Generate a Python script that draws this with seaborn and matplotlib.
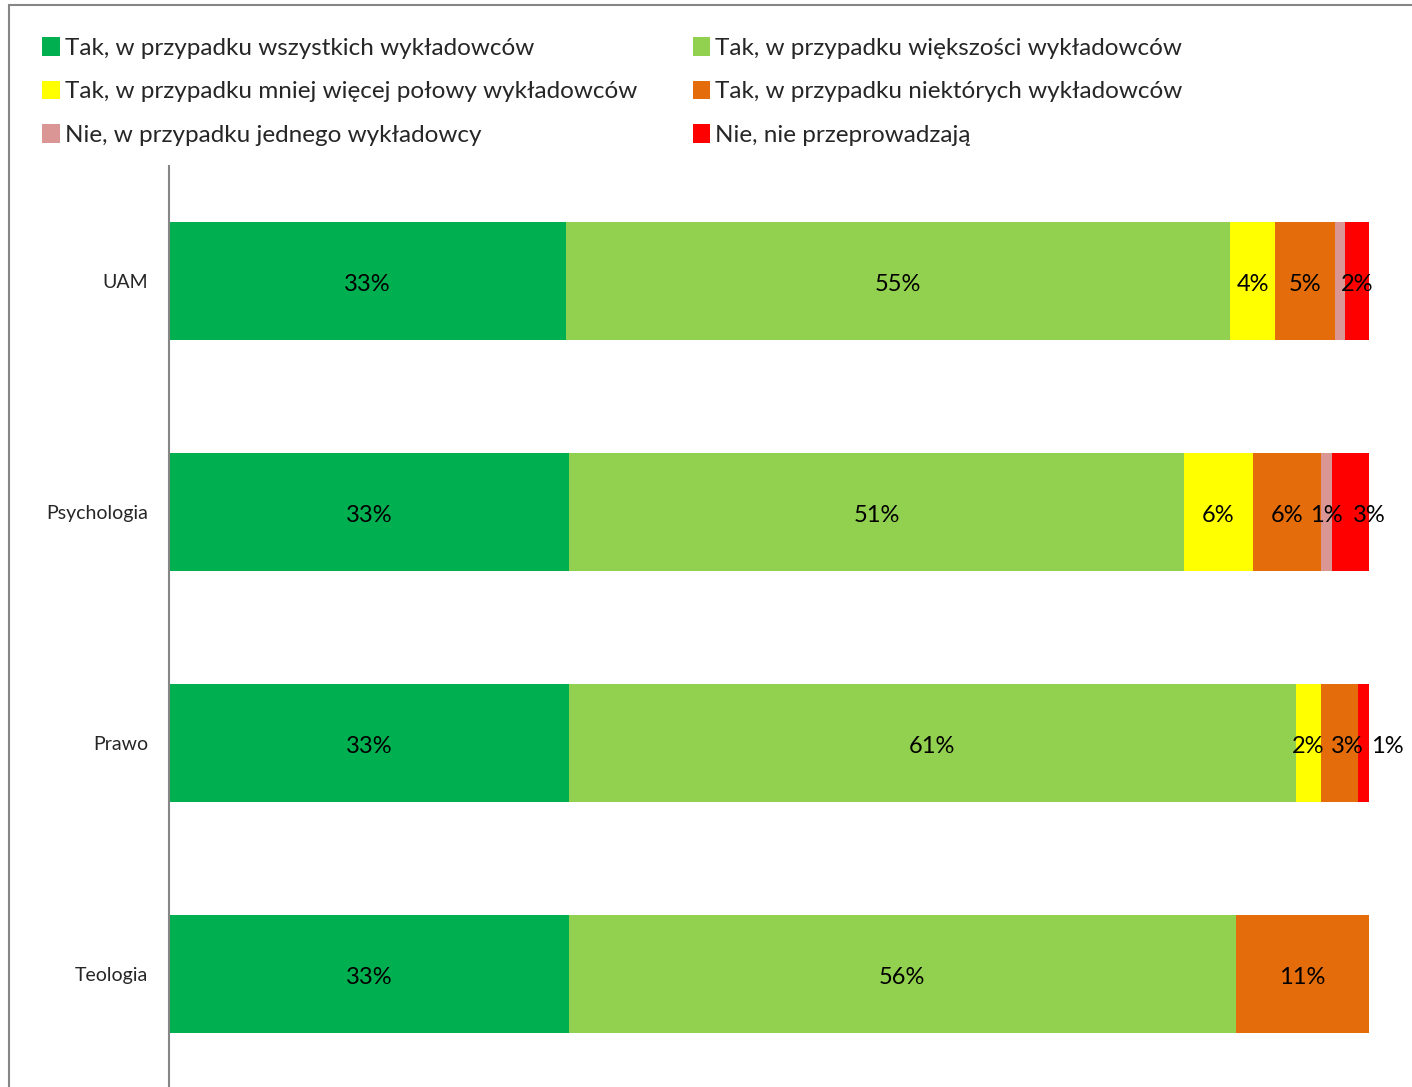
import numpy as np
import pandas as pd
import seaborn as sns
import matplotlib.pyplot as plt
from matplotlib.patches import Patch, Rectangle

# data (percent of answers)
faculties = ['UAM', 'Psychologia', 'Prawo', 'Teologia']
series_names = [
    'Tak, w przypadku wszystkich wykładowców',
    'Tak, w przypadku większości wykładowców',
    'Tak, w przypadku mniej więcej połowy wykładowców',
    'Tak, w przypadku niektórych wykładowców',
    'Nie, w przypadku jednego wykładowcy',
    'Nie, nie przeprowadzają',
]
all_lect = [33.1, 33.3, 33.3, 33.3]
most_lect = [55.3, 51.3, 60.6, 55.6]
half_lect = [3.8, 5.7, 2.1, 0.0]
some_lect = [5.0, 5.7, 3.1, 11.1]
one_lect = [0.8, 0.9, 0.0, 0.0]
none_lect = [2.1, 3.2, 0.9, 0.0]
colors = ['#00B050', '#92D050', '#FFFF00', '#E46C0A', '#D99694', '#FF0000']

# small nudges of crowded labels (in % units), as the original has them
label_nudge = {('Psychologia', 5): 1.5, ('Prawo', 3): 0.6, ('Prawo', 5): 2.0}

values = [all_lect, most_lect, half_lect, some_lect, one_lect, none_lect]
df = pd.DataFrame(dict(zip(series_names, values)), index=faculties)
cum = df.cumsum(axis=1)

sns.set_style('white')
plt.rcParams['font.family'] = ['Lato', 'DejaVu Sans']

fig = plt.figure(figsize=(14.12, 10.87), dpi=100)
ax = fig.add_axes([169 / 1412, -0.0023, 1200 / 1412, 924 / 1087])

# stacked bars: draw cumulative totals from the top series down
for name, col in reversed(list(zip(series_names, colors))):
    d = pd.DataFrame({'faculty': faculties, 'val': cum[name].values})
    sns.barplot(data=d, y='faculty', x='val', orient='h', color=col,
                width=0.515, saturation=1, ax=ax, linewidth=0)

# percent labels in the middle of each segment
for i, fac in enumerate(faculties):
    left = 0
    for k, name in enumerate(series_names):
        v = df.loc[fac, name]
        if v >= 0.85:
            x = left + v / 2 + label_nudge.get((fac, k), 0)
            ax.text(x, i + 0.013, f'{round(v):.0f}%', ha='center', va='center',
                    fontsize=17, color='black', clip_on=False)
        left += v

ax.set_xlim(0, 100)
ax.set_ylim(3.5, -0.5)
ax.set_xlabel('')
ax.set_ylabel('')
ax.set_xticks([])
ax.tick_params(axis='y', length=0, pad=15, labelsize=14)
for s in ['top', 'right', 'bottom']:
    ax.spines[s].set_visible(False)
ax.spines['left'].set_color('#868686')
ax.spines['left'].set_linewidth(1.5)

# legend, filled row by row like the original
order = [0, 2, 4, 1, 3, 5]
handles = [Patch(facecolor=colors[k], edgecolor='none') for k in order]
labels = [series_names[k] for k in order]
fig.legend(handles, labels, ncol=2, loc='upper left', bbox_to_anchor=(0.0145, 0.986),
           frameon=False, fontsize=17.5, handlelength=0.72, handleheight=0.8,
           handletextpad=0.2, columnspacing=2.3, labelspacing=0.9)

# outer chart frame
fig.patches.append(Rectangle((9 / 1412, -0.1), 1.2, 1.1 - 5 / 1087, transform=fig.transFigure,
                             fill=False, edgecolor='#868686', linewidth=1.5))

fig.savefig('out.png', dpi=100)
